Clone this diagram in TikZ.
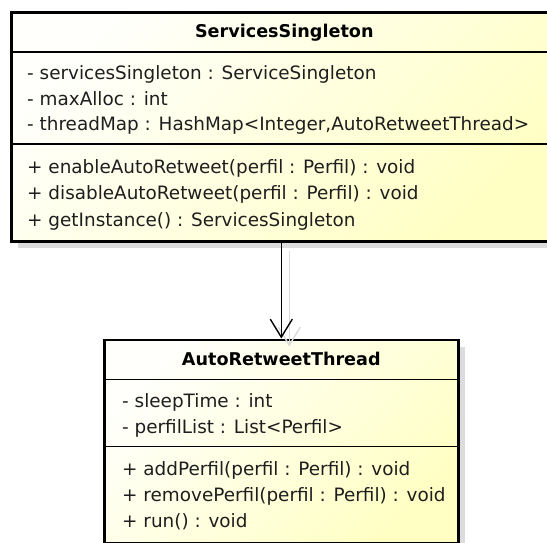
\documentclass[tikz,border=0pt]{standalone}
\usepackage{fontspec}
\setmainfont{DejaVu Sans}
\usetikzlibrary{arrows.meta}
\definecolor{fillTop}{HTML}{FFFFFB}
\definecolor{fillBottom}{HTML}{FFFFC4}
\definecolor{shadowgray}{HTML}{DCDCDC}
\definecolor{textcol}{HTML}{1E1E1E}
\begin{document}
\begin{tikzpicture}[x=1pt,y=-1pt,
  classbox/.style={draw=black, line width=2.6pt, rectangle, inner sep=0pt,
    anchor=north west, shading=axis, top color=fillTop,
    bottom color=fillBottom, shading angle=45},
  shadowbox/.style={fill=shadowgray, draw=none, rectangle, inner sep=0pt,
    anchor=north west},
  member/.style={anchor=base west, inner sep=0pt, text=textcol,
    font=\fontsize{18.4}{20}\selectfont},
  classname/.style={anchor=base, inner sep=0pt, text=black,
    font=\fontsize{17.6}{20}\selectfont\bfseries},
  sepline/.style={line width=1.2pt, black},
  assoc/.style={line width=1.4pt, black,
    -{Straight Barb[length=18pt,width=22pt,line width=1.4pt]}},
  assocshadow/.style={assoc, draw=shadowgray},
]
\clip (0,0) rectangle (547,543);

% drop shadows of the two classes
\node[shadowbox, minimum width=546pt, minimum height=229pt] (ss-sh) at (18,19) {};
\node[shadowbox, minimum width=354pt, minimum height=203pt] (art-sh) at (111,347) {};

% class ServicesSingleton
\node[classbox, minimum width=546pt, minimum height=229pt] (ss) at (10,11) {};
\draw[sepline] ([yshift=-41pt]ss.north west) -- ([yshift=-41pt]ss.north east);
\draw[sepline] ([yshift=-133pt]ss.north west) -- ([yshift=-133pt]ss.north east);
\node[classname] (ss-name) at ([yshift=-27pt]ss.north) {ServicesSingleton};
\node[member] (ss-a1) at (27,80)  {- servicesSingleton : ServiceSingleton};
\node[member] (ss-a2) at (27,106) {- maxAlloc : int};
\node[member] (ss-a3) at (27,131) {- threadMap : HashMap<Integer,AutoRetweetThread>};
\node[member] (ss-m1) at (27,173) {+ enableAutoRetweet(perfil : Perfil) : void};
\node[member] (ss-m2) at (27,199) {+ disableAutoRetweet(perfil : Perfil) : void};
\node[member] (ss-m3) at (27,226) {+ getInstance() : ServicesSingleton};

% class AutoRetweetThread
\node[classbox, minimum width=354pt, minimum height=203pt] (art) at (103,338.5) {};
\draw[sepline] ([yshift=-41pt]art.north west) -- ([yshift=-41pt]art.north east);
\draw[sepline] ([yshift=-108pt]art.north west) -- ([yshift=-108pt]art.north east);
\node[classname] (art-name) at ([yshift=-26.5pt]art.north) {AutoRetweetThread};
\node[member] (art-a1) at (122,407) {- sleepTime : int};
\node[member] (art-a2) at (122,433) {- perfilList : List<Perfil>};
\node[member] (art-m1) at (122,475) {+ addPerfil(perfil : Perfil) : void};
\node[member] (art-m2) at (122,501) {+ removePerfil(perfil : Perfil) : void};
\node[member] (art-m3) at (122,527) {+ run() : void};

% directed association
\coordinate (assoc-start) at (ss.south -| art.north);
\draw[assocshadow] ([shift={(8pt,-8pt)}]assoc-start) -- ([shift={(8pt,-8pt)}]art.north);
\draw[assoc] (assoc-start) -- (art.north);
\end{tikzpicture}
\end{document}
